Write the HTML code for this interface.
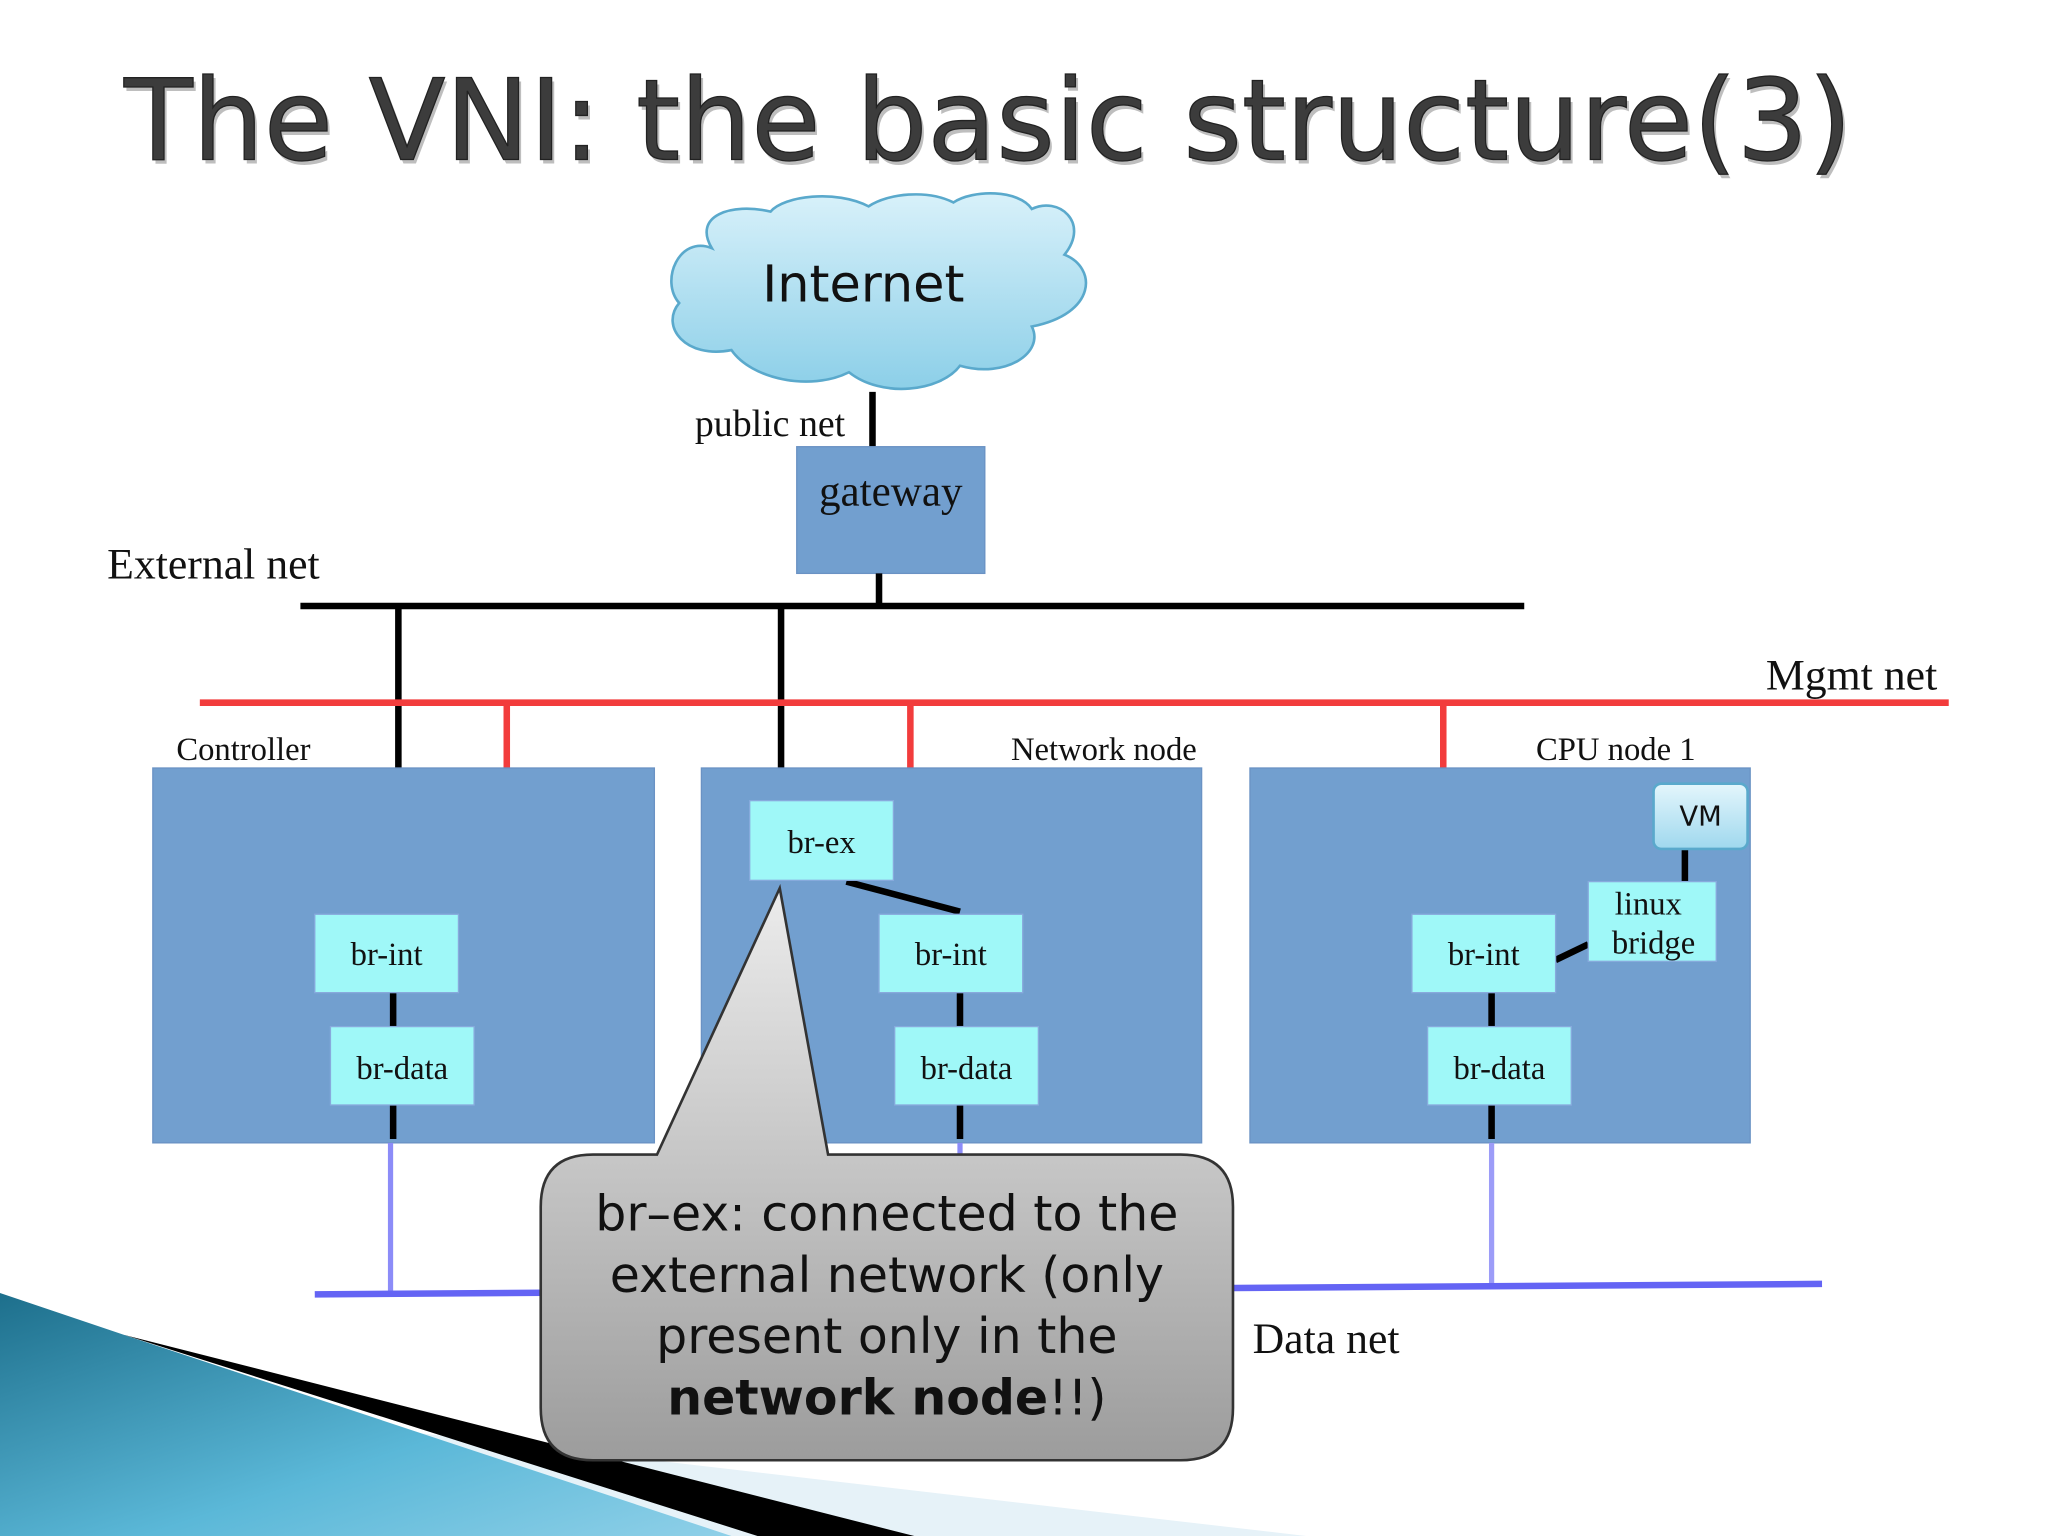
<!DOCTYPE html>
<html><head><meta charset="utf-8"><style>
html,body{margin:0;padding:0;background:#fff;}
svg{display:block;}
.s{font-family:"Liberation Serif",serif;fill:#111;}
.v{font-family:"DejaVu Sans","Liberation Sans",sans-serif;}
</style></head><body>
<svg width="2048" height="1536" viewBox="0 0 1568 1176" xmlns="http://www.w3.org/2000/svg">
<defs>
<linearGradient id="cl" x1="0" y1="0" x2="0" y2="1"><stop offset="0" stop-color="#d8f1fa"/><stop offset="1" stop-color="#8ccfe8"/></linearGradient>
<linearGradient id="cg" x1="0" y1="0" x2="0" y2="1"><stop offset="0" stop-color="#ececec"/><stop offset="1" stop-color="#9c9c9c"/></linearGradient>
<linearGradient id="vm" x1="0" y1="0" x2="0" y2="1"><stop offset="0" stop-color="#e4f6fc"/><stop offset="1" stop-color="#9fd8ee"/></linearGradient>
<linearGradient id="tl" x1="0" y1="0" x2="1" y2="1"><stop offset="0" stop-color="#1d6f8c"/><stop offset="0.6" stop-color="#5bb8d8"/><stop offset="1" stop-color="#8fd0e8"/></linearGradient>
</defs>
<polygon points="0,1060 0,1176 1000,1176" fill="#e6f2f8"/>
<polygon points="0,990 95,1022 560,1176 0,1176" fill="url(#tl)"/>
<polygon points="95,1022 700,1176 580,1176" fill="#000"/>
<text x="97" y="125" class="v" font-size="86" fill="#000" opacity="0.25" textLength="1323">The VNI: the basic structure(3)</text>
<text x="95" y="122" class="v" font-size="86" fill="#3c3c3c" stroke="#222" stroke-width="1" textLength="1323">The VNI: the basic structure(3)</text>
<path d="M545,190 C520,180 505,215 520,232 C505,250 525,275 560,268 C575,290 620,300 650,285 C675,305 720,300 735,280 C770,290 800,270 790,250 C840,240 840,205 815,195 C835,170 810,150 790,160 C780,145 745,145 730,155 C710,145 680,148 665,158 C640,145 600,150 590,162 C560,155 530,165 545,190 Z" fill="url(#cl)" stroke="#5aa9cc" stroke-width="2"/>
<text x="661" y="231" text-anchor="middle" class="v" font-size="39" fill="#111">Internet</text>
<line x1="668" y1="300" x2="668" y2="342" stroke="#000" stroke-width="5"/>
<text x="532" y="334" class="s" font-size="29">public net</text>
<rect x="610" y="342" width="144" height="97" fill="#729fcf" stroke="#6a92c4"/>
<text x="682" y="387" text-anchor="middle" class="s" font-size="33">gateway</text>
<line x1="673" y1="439" x2="673" y2="464" stroke="#000" stroke-width="5"/>
<text x="82" y="443" class="s" font-size="33.5">External net</text>
<line x1="230" y1="464" x2="1167" y2="464" stroke="#000" stroke-width="5"/>
<line x1="305" y1="464" x2="305" y2="588" stroke="#000" stroke-width="5"/>
<line x1="598" y1="464" x2="598" y2="612" stroke="#000" stroke-width="5"/>
<line x1="153" y1="538" x2="1492" y2="538" stroke="#f23c3c" stroke-width="5"/>
<line x1="388" y1="538" x2="388" y2="588" stroke="#f23c3c" stroke-width="5"/>
<line x1="697" y1="538" x2="697" y2="588" stroke="#f23c3c" stroke-width="5"/>
<line x1="1105" y1="538" x2="1105" y2="588" stroke="#f23c3c" stroke-width="5"/>
<text x="1352" y="528" class="s" font-size="33.5">Mgmt net</text>
<rect x="117" y="588" width="384" height="287" fill="#729fcf" stroke="#6a92c4"/>
<rect x="537" y="588" width="383" height="287" fill="#729fcf" stroke="#6a92c4"/>
<rect x="957" y="588" width="383" height="287" fill="#729fcf" stroke="#6a92c4"/>
<text x="135" y="582" class="s" font-size="25">Controller</text>
<text x="774" y="582" class="s" font-size="25">Network node</text>
<text x="1176" y="582" class="s" font-size="25">CPU node 1</text>
<line x1="299" y1="875" x2="299" y2="990" stroke="#8c8cf8" stroke-width="4"/>
<line x1="735" y1="875" x2="735" y2="886" stroke="#8c8cf8" stroke-width="4"/>
<line x1="1142" y1="875" x2="1142" y2="983" stroke="#9c9cf8" stroke-width="4"/>
<line x1="241" y1="991" x2="1395" y2="983" stroke="#6464f4" stroke-width="5"/>
<text x="959" y="1036" class="s" font-size="33.5">Data net</text>
<line x1="301" y1="760" x2="301" y2="786" stroke="#000" stroke-width="5"/>
<line x1="301" y1="846" x2="301" y2="872" stroke="#000" stroke-width="5"/>
<rect x="241" y="700" width="110" height="60" fill="#9ff8f8" stroke="#8ad"/>
<text x="296" y="739" text-anchor="middle" class="s" font-size="25">br-int</text>
<rect x="253" y="786" width="110" height="60" fill="#9ff8f8" stroke="#8ad"/>
<text x="308" y="826" text-anchor="middle" class="s" font-size="25">br-data</text>
<line x1="648" y1="675" x2="735" y2="698" stroke="#000" stroke-width="5"/>
<line x1="735" y1="760" x2="735" y2="786" stroke="#000" stroke-width="5"/>
<line x1="735" y1="846" x2="735" y2="872" stroke="#000" stroke-width="5"/>
<rect x="574" y="613" width="110" height="61" fill="#9ff8f8" stroke="#8ad"/>
<text x="629" y="653" text-anchor="middle" class="s" font-size="25">br-ex</text>
<rect x="673" y="700" width="110" height="60" fill="#9ff8f8" stroke="#8ad"/>
<text x="728" y="739" text-anchor="middle" class="s" font-size="25">br-int</text>
<rect x="685" y="786" width="110" height="60" fill="#9ff8f8" stroke="#8ad"/>
<text x="740" y="826" text-anchor="middle" class="s" font-size="25">br-data</text>
<line x1="1142" y1="760" x2="1142" y2="786" stroke="#000" stroke-width="5"/>
<line x1="1142" y1="846" x2="1142" y2="872" stroke="#000" stroke-width="5"/>
<line x1="1290" y1="650" x2="1290" y2="675" stroke="#000" stroke-width="5"/>
<line x1="1191" y1="735" x2="1216" y2="723" stroke="#000" stroke-width="5"/>
<rect x="1081" y="700" width="110" height="60" fill="#9ff8f8" stroke="#8ad"/>
<text x="1136" y="739" text-anchor="middle" class="s" font-size="25">br-int</text>
<rect x="1093" y="786" width="110" height="60" fill="#9ff8f8" stroke="#8ad"/>
<text x="1148" y="826" text-anchor="middle" class="s" font-size="25">br-data</text>
<rect x="1216" y="675" width="98" height="61" fill="#9ff8f8" stroke="#8ad"/>
<text x="1262" y="700" text-anchor="middle" class="s" font-size="25">linux</text>
<text x="1266" y="730" text-anchor="middle" class="s" font-size="25">bridge</text>
<rect x="1266" y="600" width="72" height="50" rx="6" fill="url(#vm)" stroke="#5aa9cc" stroke-width="2"/>
<text x="1302" y="632" text-anchor="middle" class="v" font-size="21" fill="#111">VM</text>
<path d="M454,884 L503,884 L597,680 L634,884 L904,884 Q944,884 944,924 L944,1078 Q944,1118 904,1118 L454,1118 Q414,1118 414,1078 L414,924 Q414,884 454,884 Z" fill="url(#cg)" stroke="#333" stroke-width="2"/>
<g class="v" font-size="37.5" fill="#111" text-anchor="middle">
<text x="679" y="942">br–ex: connected to the</text>
<text x="679" y="989">external network (only</text>
<text x="679" y="1036">present only in the</text>
<text x="679" y="1083"><tspan font-weight="bold">network node</tspan>!!)</text>
</g>
</svg>
</body></html>
